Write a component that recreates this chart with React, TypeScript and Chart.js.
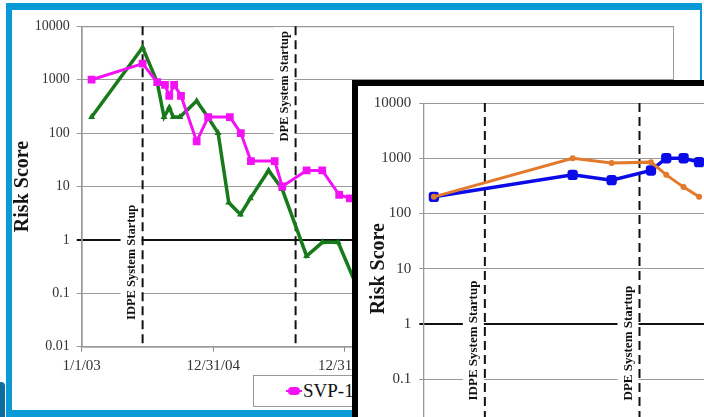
import React, { useEffect, useRef } from "react";
import { Chart, registerables } from "chart.js";

Chart.register(...registerables);

const FONT = '"Liberation Serif", "Times New Roman", serif';

// ---- shared axes (x = days since 1/1/03) ----
const xMinDay = 0;
const xMaxDay = 3287;
const xTickDays = [0, 730, 1460, 2190, 2920];
const xTickLabels = ["1/1/03", "12/31/04", "12/31/06", "12/30/08", "12/30/10"];

const yTicks = [0.01, 0.1, 1, 10, 100, 1000, 10000];
const yTickLabels = ["0.01", "0.1", "1", "10", "100", "1000", "10000"];

const eventDays = [338, 1187];
const eventNames = ["IDPE System Startup", "DPE System Startup"];
const eventLabelRiskLeft = [0.38, 750];
const eventLabelRiskRight = [0.5, 0.45];

// ---- left chart series ----
const legendLabels = ["SVP-1", "SVP-2"];
const svp1Days = [55, 338, 419, 462, 486, 513, 551, 638, 702, 822, 883, 939, 1071, 1113, 1248, 1335, 1429, 1488];
const svp1Risk = [1000, 2000, 900, 800, 500, 800, 500, 70, 200, 200, 100, 30, 30, 10, 20, 20, 7, 6];
const svp2Days = [55, 338, 419, 457, 486, 508, 545, 638, 700, 757, 816, 881, 936, 1037, 1112, 1248, 1336, 1423, 1543];
const svp2Risk = [200, 4000, 900, 200, 300, 200, 200, 400, 200, 100, 5, 3, 6, 20, 9, 0.5, 0.9, 0.9, 0.1];

// ---- inset chart series ----
const insetDays = [58, 820, 1034, 1250, 1334, 1429, 1514];
const insetBlueRisk = [200, 500, 400, 600, 1000, 1000, 850];
const insetOrangeRisk = [200, 1000, 820, 850, 500, 300, 200];

const MAGENTA = "#f312f3";
const GREEN = "#177a1b";
const BLUE = "#0b0be8";
const ORANGE = "#e2792b";

function toPoints(days: number[], vals: number[]) {
  return days.map((d, i) => ({ x: d, y: vals[i] }));
}

function makeEventsPlugin(labelRisk: number[], fontSize: number) {
  return {
    id: "events",
    beforeDatasetsDraw(chart: any) {
      const { ctx, chartArea, scales } = chart;
      eventDays.forEach((day, i) => {
        const px = scales.x.getPixelForValue(day);
        const py = scales.y.getPixelForValue(labelRisk[i]);
        ctx.save();
        ctx.font = `bold ${fontSize}px ${FONT}`;
        const w = ctx.measureText(eventNames[i]).width;
        ctx.fillStyle = "#ffffff";
        ctx.fillRect(px - 22, py - w / 2 - 4, 21, w + 8);
        ctx.strokeStyle = "#111111";
        ctx.lineWidth = 2;
        ctx.setLineDash([9, 5]);
        ctx.beginPath();
        ctx.moveTo(px, chartArea.top);
        ctx.lineTo(px, chartArea.bottom);
        ctx.stroke();
        ctx.setLineDash([]);
        ctx.translate(px - 11, py);
        ctx.rotate(-Math.PI / 2);
        ctx.fillStyle = "#111111";
        ctx.textAlign = "center";
        ctx.textBaseline = "middle";
        ctx.fillText(eventNames[i], 0, 0);
        ctx.restore();
      });
    },
  };
}

const framePlugin = {
  id: "frame",
  beforeDatasetsDraw(chart: any) {
    const { ctx, chartArea: a } = chart;
    ctx.save();
    ctx.strokeStyle = "#9a9a9a";
    ctx.lineWidth = 1;
    ctx.strokeRect(a.left + 0.5, a.top + 0.5, a.right - a.left - 1, a.bottom - a.top);
    ctx.restore();
  },
};

type Opts = {
  datasets: any[];
  yAxisWidth: number;
  xAxisHeight: number;
  padTop: number;
  padRight: number;
  titlePad: number;
  tickLen: number;
  yTickPad: number;
  yTickSize: number;
  xTickSize: number;
  eventRisk: number[];
  eventFont: number;
};

function buildConfig(o: Opts): any {
  return {
    type: "line",
    data: { datasets: o.datasets },
    options: {
      animation: false,
      responsive: false,
      maintainAspectRatio: false,
      devicePixelRatio: 1,
      layout: { padding: { top: o.padTop, right: o.padRight, left: 0, bottom: 0 } },
      plugins: { legend: { display: false }, tooltip: { enabled: false } },
      scales: {
        x: {
          type: "linear",
          min: xMinDay,
          max: xMaxDay,
          afterBuildTicks: (s: any) => {
            s.ticks = xTickDays.map((v) => ({ value: v }));
          },
          afterFit: (s: any) => {
            s.height = o.xAxisHeight;
          },
          ticks: {
            autoSkip: false,
            maxRotation: 0,
            padding: 5,
            color: "#333",
            font: { family: FONT, size: o.xTickSize },
            callback: (v: number) => {
              const i = xTickDays.indexOf(v);
              return i >= 0 ? xTickLabels[i] : "";
            },
          },
          grid: { drawOnChartArea: false, drawTicks: true, tickLength: o.tickLen, color: "#8a8a8a" },
          border: { color: "#9a9a9a", width: 1 },
        },
        y: {
          type: "logarithmic",
          min: 0.01,
          max: 10000,
          afterBuildTicks: (s: any) => {
            s.ticks = yTicks.map((v) => ({ value: v }));
          },
          afterFit: (s: any) => {
            s.width = o.yAxisWidth;
          },
          ticks: {
            padding: o.yTickPad,
            color: "#333",
            font: { family: FONT, size: o.yTickSize },
            callback: (v: number) => {
              const i = yTicks.findIndex((t) => Math.abs(t - v) / t < 1e-6);
              return i >= 0 ? yTickLabels[i] : "";
            },
          },
          grid: {
            color: (c: any) => (c.tick && c.tick.value === 1 ? "#111111" : "#9a9a9a"),
            lineWidth: (c: any) => (c.tick && c.tick.value === 1 ? 2 : 1),
            tickLength: o.tickLen,
          },
          border: { color: "#9a9a9a", width: 1 },
          title: {
            display: true,
            text: "Risk Score",
            color: "#151515",
            font: { family: FONT, size: 20, weight: "bold", lineHeight: 1 },
            padding: { top: o.titlePad, bottom: 0 },
          },
        },
      },
    },
    plugins: [framePlugin, makeEventsPlugin(o.eventRisk, o.eventFont)],
  };
}

function ChartCanvas({ width, height, make }: { width: number; height: number; make: () => any }) {
  const ref = useRef<HTMLCanvasElement>(null);
  useEffect(() => {
    if (!ref.current) return;
    const chart = new Chart(ref.current, make());
    return () => chart.destroy();
  }, []);
  return <canvas ref={ref} width={width} height={height} style={{ display: "block", width, height }} />;
}

const leftConfig = () =>
  buildConfig({
    datasets: [
      {
        label: legendLabels[0],
        data: toPoints(svp1Days, svp1Risk),
        borderColor: MAGENTA,
        backgroundColor: MAGENTA,
        borderWidth: 3,
        pointStyle: "rect",
        pointRadius: 5.5,
        pointBorderWidth: 0,
        tension: 0,
      },
      {
        label: legendLabels[1],
        data: toPoints(svp2Days, svp2Risk),
        borderColor: GREEN,
        backgroundColor: GREEN,
        borderWidth: 3.5,
        pointStyle: "triangle",
        pointRadius: 4,
        pointBorderWidth: 0,
        tension: 0,
      },
    ],
    yAxisWidth: 69.7,
    xAxisHeight: 63.3,
    padTop: 16.3,
    padRight: 26,
    titlePad: 1,
    tickLen: 5,
    yTickPad: 7,
    yTickSize: 14,
    xTickSize: 15,
    eventRisk: eventLabelRiskLeft,
    eventFont: 12.5,
  });

const insetConfig = () =>
  buildConfig({
    datasets: [
      {
        label: "Series 1",
        data: toPoints(insetDays, insetOrangeRisk),
        borderColor: ORANGE,
        backgroundColor: ORANGE,
        borderWidth: 3,
        pointStyle: "circle",
        pointRadius: 3,
        pointBorderWidth: 0,
        tension: 0,
      },
      {
        label: "Series 2",
        data: toPoints(insetDays, insetBlueRisk),
        borderColor: BLUE,
        backgroundColor: BLUE,
        borderWidth: 3.5,
        pointStyle: "rectRounded",
        pointRadius: 6,
        pointBorderWidth: 0,
        tension: 0,
      },
    ],
    yAxisWidth: 65.3,
    xAxisHeight: 81.6,
    padTop: 15.7,
    padRight: 1.9,
    titlePad: 11,
    tickLen: 4,
    yTickPad: 8,
    yTickSize: 15,
    xTickSize: 15,
    eventRisk: eventLabelRiskRight,
    eventFont: 13,
  });

export default function App() {
  return (
    <div
      style={{
        position: "fixed",
        left: 0,
        top: 0,
        width: 704,
        height: 417,
        overflow: "hidden",
        background: "#ffffff",
      }}
    >
      {/* blue slide frame */}
      <div
        style={{
          position: "absolute",
          left: 6,
          top: 3,
          width: 696,
          height: 414,
          boxSizing: "border-box",
          borderTop: "7px solid #0a9ad6",
          borderLeft: "6px solid #0a9ad6",
          borderRight: "2px solid #0a9ad6",
          borderBottom: "7px solid #0a9ad6",
          background: "#ffffff",
        }}
      />
      <div
        style={{
          position: "absolute",
          left: 0,
          top: 382,
          width: 5,
          height: 35,
          background: "#0d6e9e",
          borderTopRightRadius: 4,
        }}
      />
      {/* main chart */}
      <div style={{ position: "absolute", left: 12, top: 10 }}>
        <ChartCanvas width={688} height={400} make={leftConfig} />
      </div>
      {/* legend */}
      <div
        style={{
          position: "absolute",
          left: 253,
          top: 375,
          width: 240,
          height: 32,
          boxSizing: "border-box",
          border: "1px solid #9a9a9a",
          background: "#ffffff",
          fontFamily: FONT,
          fontSize: 19,
          color: "#111",
          display: "flex",
          alignItems: "center",
        }}
      >
        <div style={{ position: "relative", width: 16, height: 8, marginLeft: 32, marginRight: 1 }}>
          <div style={{ position: "absolute", left: 0, top: 3, width: 16, height: 2, background: MAGENTA }} />
          <div
            style={{ position: "absolute", left: 2, top: 0, width: 12, height: 8, borderRadius: 4, background: MAGENTA }}
          />
        </div>
        <span>{legendLabels[0]}</span>
        <div style={{ position: "relative", width: 16, height: 8, marginLeft: 20, marginRight: 1 }}>
          <div style={{ position: "absolute", left: 0, top: 3, width: 16, height: 2, background: GREEN }} />
        </div>
        <span>{legendLabels[1]}</span>
      </div>
      {/* inset chart */}
      <div
        style={{
          position: "absolute",
          left: 352,
          top: 80,
          border: "6px solid #000000",
          background: "#ffffff",
        }}
      >
        <ChartCanvas width={670} height={430} make={insetConfig} />
      </div>
    </div>
  );
}
